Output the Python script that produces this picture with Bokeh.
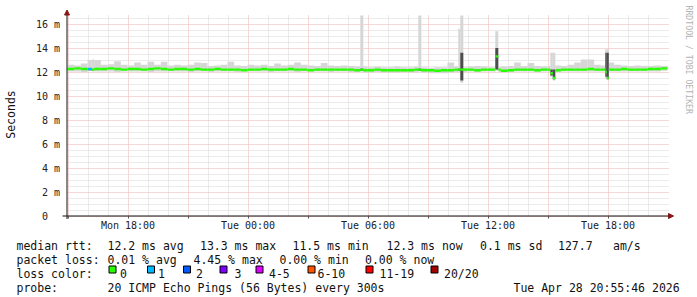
from math import pi
from bokeh.plotting import figure
from bokeh.models import (Range1d, FixedTicker, Label, Arrow, NormalHead,
                          BoxAnnotation, ColumnDataSource)
from bokeh.embed import file_html
from bokeh.resources import INLINE

# ---------------- data (time in hours since Mon 00:00, values in ms) -------------
T_START = 14.975          # left edge of the 30 h window
T_END = 44.975            # Tue 20:55:46
STEP_H = 1 / 3            # 20-minute consolidated samples
Y_TOP = 16.7              # upper limit of the graph (values above are clipped)

median_ms = [12.25, 12.3, 12.25, 12.2, 12.25, 12.25, 12.3, 12.25, 12.2, 12.25,
             12.25, 12.2, 12.25, 12.3, 12.25, 12.2, 12.25, 12.25, 12.2, 12.25,
             12.2, 12.2, 12.25, 12.2, 12.2, 12.2, 12.15, 12.2, 12.2, 12.25,
             12.2, 12.2, 12.2, 12.25, 12.2, 12.2, 12.15, 12.2, 12.2, 12.2,
             12.2, 12.2, 12.2, 12.15, 12.15, 12.15, 12.2, 12.15, 12.15, 12.15,
             12.15, 12.15, 12.2, 12.15, 12.15, 12.1, 12.15, 12.15, 12.2, 12.2,
             12.2, 12.15, 12.2, 12.2, 12.2, 12.1, 12.15, 12.2, 12.2, 12.2,
             12.15, 12.2, 12.2, 12.15, 12.2, 12.2, 12.2, 12.2, 12.25, 12.2,
             12.2, 12.2, 12.2, 12.25, 12.2, 12.2, 12.2, 12.25, 12.25, 12.3]

smoke_hi_ms = [12.6, 12.55, 12.7, 13.05, 13.0, 12.6, 12.65, 12.9, 12.6, 12.55,
               12.8, 12.6, 12.85, 12.6, 12.85, 12.55, 12.6, 12.55, 12.6, 12.8,
               12.75, 12.5, 12.55, 12.6, 12.85, 12.55, 12.5, 12.6, 12.55, 12.6,
               12.5, 12.7, 12.55, 12.6, 12.8, 12.6, 12.55, 12.5, 12.75, 12.55,
               12.5, 12.55, 12.5, 12.45, 12.45, 12.4, 12.45, 12.4, 12.4, 12.45,
               12.4, 12.4, 12.45, 12.4, 12.35, 12.4, 12.4, 12.8, 12.45, 12.4,
               12.45, 12.5, 12.45, 12.4, 12.4, 12.45, 12.5, 12.8, 12.5, 12.75,
               12.5, 12.45, 12.5, 12.55, 12.5, 12.6, 12.8, 13.05, 13.05, 12.6,
               12.55, 12.8, 12.6, 12.55, 12.5, 12.55, 12.5, 12.5, 12.55, 12.5]

smoke_lo_ms = [12.05, 12.05, 12.0, 12.05, 12.05, 12.05, 12.05, 12.0, 12.05, 12.05,
               12.05, 12.05, 12.0, 12.05, 12.05, 12.05, 12.05, 12.05, 12.0, 12.05,
               12.05, 12.0, 12.05, 12.05, 12.05, 12.0, 12.05, 12.05, 12.05, 12.05,
               12.0, 12.05, 12.05, 12.05, 12.0, 12.05, 12.05, 12.05, 12.05, 12.0,
               12.05, 12.05, 12.0, 12.0, 11.95, 11.95, 12.0, 11.95, 11.95, 11.95,
               12.0, 11.95, 11.95, 11.95, 11.9, 11.9, 11.9, 11.95, 12.0, 12.0,
               12.05, 12.0, 12.05, 12.05, 12.0, 11.95, 12.0, 12.05, 12.05, 12.05,
               12.0, 12.05, 12.05, 12.0, 12.05, 12.05, 12.05, 12.05, 12.05, 12.05,
               12.05, 12.05, 12.05, 12.05, 12.05, 12.05, 12.05, 12.05, 12.05, 12.1]

# short events (spikes / loss) read at finer resolution
ev_start = [15.99, 29.615, 32.515, 34.515, 34.615, 36.365, 39.115, 39.24, 41.865, 41.94]
ev_end = [16.19, 29.765, 32.665, 34.615, 34.765, 36.515, 39.24, 39.365, 41.94, 42.04]
ev_median = [12.25, 12.2, 12.2, 12.2, 12.2, 13.3, 11.9, 11.5, 12.0, 11.5]
ev_light_lo = [12.1, 12.05, 12.05, 12.0, 11.1, 12.1, 11.6, 11.3, 11.5, 11.4]
ev_light_hi = [13.0, 17.5, 17.5, 15.6, 17.5, 15.4, 13.6, 13.6, 13.9, 13.9]
ev_dark_lo = [12.15, 12.1, 12.1, 12.1, 11.3, 12.2, 11.7, 11.4, 11.6, 11.4]
ev_dark_hi = [12.3, 12.3, 12.3, 12.3, 13.6, 14.0, 12.2, 12.2, 13.6, 13.6]
ev_loss = [1, 0, 0, 0, 0, 0, 0, 0, 0, 0]

loss_labels = ["0", "1", "2", "3", "4-5", "6-10", "11-19", "20/20"]
loss_colors = ["#26ff00", "#00b8ff", "#0059ff", "#7e00ff", "#dd00ff", "#ff5500", "#ff0000", "#a10000"]
loss_upper = [0, 1, 2, 3, 5, 10, 19, 20]

x_tick_pos = [18, 24, 30, 36, 42]
x_tick_labels = ["Mon 18:00", "Tue 00:00", "Tue 06:00", "Tue 12:00", "Tue 18:00"]
y_tick_pos = [0, 2, 4, 6, 8, 10, 12, 14, 16]
y_tick_labels = ["0\u00a0\u00a0", "2 m", "4 m", "6 m", "8 m", "10 m", "12 m", "14 m", "16 m"]

legend_rows = [
    [(16, "median rtt:"), (107, "12.2 ms avg"), (199.5, "13.3 ms max"), (292, "11.5 ms min"),
     (386, "12.3 ms now"), (479.5, "0.1 ms sd"), (557.5, "127.7"), (612.5, "am/s")],
    [(16, "packet loss:"), (107, "0.01 % avg"), (193, "4.45 % max"), (279, "0.00 % min"),
     (364.5, "0.00 % now")],
    [(16, "loss color:")],
    [(16, "probe:"), (107, "20 ICMP Echo Pings (56 Bytes) every 300s"),
     (513, "Tue Apr 28 20:55:46 2026")],
]
legend_baselines = [245, 259.3, 273.3, 287.3]
loss_box_x = [108, 146.5, 182.5, 219, 255, 307, 365, 430]
loss_text_x = [119.5, 157.5, 195.5, 234, 268.5, 317, 379, 443.5]

# ---------------- build segments --------------------------------------------------
def loss_color(n):
    for up, c in zip(loss_upper, loss_colors):
        if n <= up:
            return c
    return loss_colors[-1]

seg = {k: [] for k in ("left", "right", "med", "llo", "lhi", "color")}
dark = {k: [] for k in ("left", "right", "lo", "hi")}
events = sorted(zip(ev_start, ev_end, ev_median, ev_light_lo, ev_light_hi,
                    ev_dark_lo, ev_dark_hi, ev_loss))

def add_seg(a, b, m, llo, lhi, loss):
    seg["left"].append(a); seg["right"].append(b); seg["med"].append(m)
    seg["llo"].append(llo); seg["lhi"].append(min(lhi, Y_TOP))
    seg["color"].append(loss_color(loss))

for i in range(len(median_ms)):
    a = T_START + i * STEP_H
    b = min(a + STEP_H, T_END)
    cur = a
    for (s, e, *_rest) in events:
        if e <= a or s >= b:
            continue
        if s > cur:
            add_seg(cur, s, median_ms[i], smoke_lo_ms[i], smoke_hi_ms[i], 0)
        cur = max(cur, e)
    if cur < b:
        add_seg(cur, b, median_ms[i], smoke_lo_ms[i], smoke_hi_ms[i], 0)

for (s, e, m, llo, lhi, dlo, dhi, loss) in events:
    add_seg(s, e, m, llo, lhi, loss)
    dark["left"].append(s); dark["right"].append(e)
    dark["lo"].append(dlo); dark["hi"].append(min(dhi, Y_TOP))

MED_HALF = 0.1
seg["mlo"] = [m - MED_HALF for m in seg["med"]]
seg["mhi"] = [m + MED_HALF for m in seg["med"]]
src = ColumnDataSource(seg)
dsrc = ColumnDataSource(dark)

# ---------------- figure ----------------------------------------------------------
# the frame covers the whole canvas; 20 px per hour, 12 px per ms,
# x = 67 px at T_START, value 0 at y = 215.5 px
W, H = 697, 297
PX_H, PX_MS = 20.0, 12.0
X0 = T_START - 67.0 / PX_H
Y0 = -(H - 215.5) / PX_MS
p = figure(width=W, height=H, output_backend="svg", toolbar_location=None,
           title=None,
           x_range=Range1d(X0, X0 + W / PX_H), y_range=Range1d(Y0, Y0 + H / PX_MS),
           min_border=0)
p.background_fill_color = "white"
p.border_fill_color = "white"
p.outline_line_color = None

X_AXIS_AT = T_START - 0.5 / PX_H     # axis on a pixel centre

xt = FixedTicker(ticks=list(range(15, 45, 3)),
                 minor_ticks=[h for h in range(15, 45) if h % 3])
yt = FixedTicker(ticks=y_tick_pos,
                 minor_ticks=[k * 0.5 for k in range(34) if k % 4])
p.xaxis.ticker = xt
p.yaxis.ticker = yt
p.xaxis.fixed_location = 0
p.yaxis.fixed_location = X_AXIS_AT
p.xaxis.bounds = (T_START, T_END)
p.yaxis.bounds = (0, Y_TOP)
ov = {h: "" for h in range(15, 45, 3)}
ov.update(dict(zip(x_tick_pos, x_tick_labels)))
p.xaxis.major_label_overrides = ov
p.yaxis.major_label_overrides = dict(zip(y_tick_pos, y_tick_labels))

for ax in (p.xaxis[0], p.yaxis[0]):
    ax.axis_line_color = None
    ax.major_label_text_font = "DejaVu Sans Mono"
    ax.major_label_text_font_size = "10px"
    ax.major_label_text_color = "#222222"
    ax.minor_tick_in = 0
    ax.minor_tick_out = 0
    ax.major_tick_in = 0
p.xaxis.major_tick_out = 2
p.xaxis.major_tick_line_color = "#555555"
p.xaxis.major_label_standoff = 2
p.yaxis.major_tick_out = 0
p.yaxis.major_label_standoff = 7

for g in (p.xgrid[0], p.ygrid[0]):
    g.grid_line_color = "#eeb0b0"
    g.grid_line_dash = "1 1"
    g.grid_line_width = 1
    g.minor_grid_line_color = "#d6d6d6"
    g.minor_grid_line_dash = "1 1"
    g.minor_grid_line_width = 1
p.xgrid[0].cross_bounds = (0, Y_TOP)
p.ygrid[0].cross_bounds = (T_START, T_END + 0.1)

# smoke and median
p.quad(left="left", right="right", bottom="llo", top="lhi", source=src,
       fill_color="#d6d6d6", line_color=None)
p.quad(left="left", right="right", bottom="lo", top="hi", source=dsrc,
       fill_color="#4d4d4d", line_color=None)
p.quad(left="left", right="right", bottom="mlo", top="mhi", source=src,
       fill_color="color", line_color=None)

# axes lines with arrow heads
AR = "#8b1414"
p.add_layout(Arrow(end=NormalHead(size=5, fill_color=AR, line_color=AR),
                   x_start=T_START - 5 / PX_H, y_start=0,
                   x_end=T_START + 606 / PX_H, y_end=0,
                   line_color="#111111", line_width=1))
p.add_layout(Arrow(end=NormalHead(size=5, fill_color=AR, line_color=AR),
                   x_start=X_AXIS_AT, y_start=-3 / PX_MS,
                   x_end=X_AXIS_AT, y_end=206 / PX_MS,
                   line_color="#111111", line_width=1))

def txt(x, y, s, size="11.5px", color="#111111", angle=0.0, align="left",
        baseline="alphabetic"):
    # x, y are canvas pixels from the top-left corner
    p.add_layout(Label(x=x, y=H - y, x_units="screen", y_units="screen",
                       text=s, text_font="DejaVu Sans Mono", text_font_size=size,
                       text_color=color, angle=angle, text_align=align,
                       text_baseline=baseline))

txt(10.5, 114, "Seconds", size="11.5px", angle=pi / 2, align="center", baseline="middle")
txt(688, 5, "RRDTOOL / TOBI OETIKER", size="8.2px", color="#b4b4b4",
    angle=-pi / 2, align="left", baseline="middle")

for row, yb in zip(legend_rows, legend_baselines):
    for x, s in row:
        txt(x, yb, s)

for bx, tx, lab, col in zip(loss_box_x, loss_text_x, loss_labels, loss_colors):
    p.add_layout(BoxAnnotation(left=bx + 0.5, right=bx + 7.5,
                               top=H - 265.5, bottom=H - 272.5,
                               left_units="screen", right_units="screen",
                               top_units="screen", bottom_units="screen",
                               fill_color=col, fill_alpha=1.0,
                               line_color="#000000", line_width=1, line_alpha=1.0))
    txt(tx, legend_baselines[2], lab)

open("out.html", "w").write(file_html(p, INLINE))
